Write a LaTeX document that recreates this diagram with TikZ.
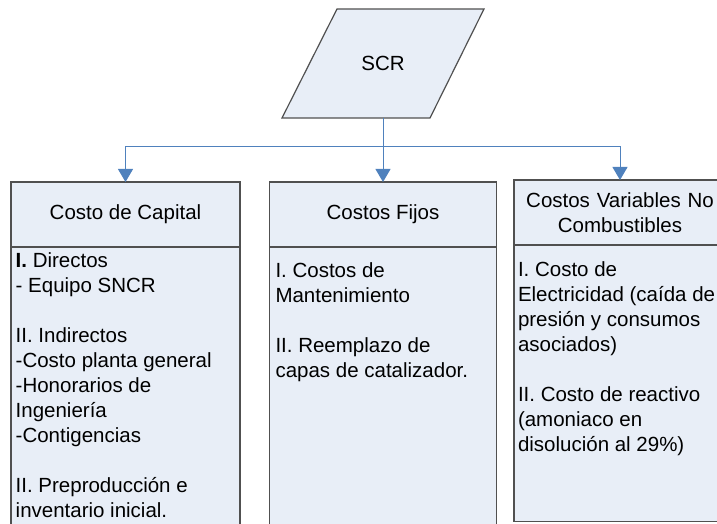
\documentclass[tikz,border=0pt]{standalone}
\usepackage{fontspec}
\setmainfont{Liberation Sans}
\usetikzlibrary{arrows.meta,positioning}
\definecolor{boxfill}{HTML}{E8EEF7}
\definecolor{boxline}{HTML}{505050}
\definecolor{linkblue}{HTML}{4F81BD}

\begin{document}
\begin{tikzpicture}[x=1pt,y=1pt,
  every node/.style={font=\fontsize{20.5}{25}\selectfont,outer sep=0pt},
  shapeline/.style={draw=boxline,fill=boxfill,line width=1.2pt},
  headbox/.style={shapeline,minimum height=65pt,inner sep=0pt,align=center},
  bodybox/.style={shapeline,inner sep=0pt},
  bodytext/.style={align=left,inner sep=0pt},
  link/.style={draw=linkblue,line width=1pt},
  tip/.style={-{Triangle[width=15pt,length=13pt]}}]
  \useasboundingbox (0,0) rectangle (717,523);
  \clip (0,0) rectangle (717,523);
  % source
  \draw[shapeline] (337,514) -- (484,514) -- (430,405) -- (282,405) -- cycle;
  \node (scr) at (383,459.5) {SCR};
  \coordinate (scrfoot) at (383,405);
  % headers
  \node[headbox,minimum width=229pt] (cap) at (125.5,308.5) {Costo de Capital};
  \node[headbox,minimum width=227pt] (fix) at (383,308.5) {Costos Fijos};
  \node[headbox,minimum width=212pt,text width=205pt] (var) at (620,310.5)
        {Costos Variables No\\Combustibles};
  % bodies
  \node[bodybox,minimum width=229pt,minimum height=300pt,below=0pt of cap] (capbody) {};
  \node[bodybox,minimum width=227pt,minimum height=300pt,below=0pt of fix] (fixbody) {};
  \node[bodybox,minimum width=212pt,minimum height=276.7pt,below=0pt of var] (varbody) {};
  \node[bodytext,below right=5.3pt and 4.7pt of capbody.north west] (captext)
        {\textbf{I.} Directos\\- Equipo SNCR\\[25pt]II. Indirectos\\-Costo planta general\\
         -Honorarios de\\Ingeniería\\-Contigencias\\[25pt]II. Preproducción e\\inventario inicial.};
  \node[bodytext,below right=16.1pt and 6pt of fixbody.north west] (fixtext)
        {I. Costos de\\Mantenimiento\\[25pt]II. Reemplazo de\\capas de catalizador.};
  \node[bodytext,below right=17.1pt and 4pt of varbody.north west] (vartext)
        {I. Costo de\\Electricidad (caída de\\presión y consumos\\asociados)\\[25pt]
         II. Costo de reactivo\\(amoniaco en\\disolución al 29\%)};
  % connectors
  \coordinate (bus) at (383,376);
  \draw[link] (scrfoot) -- (bus);
  \draw[link,tip] (bus) -| (cap.north);
  \draw[link,tip] (bus) -- (fix.north);
  \draw[link,tip] (bus) -| (var.north);
\end{tikzpicture}
\end{document}
